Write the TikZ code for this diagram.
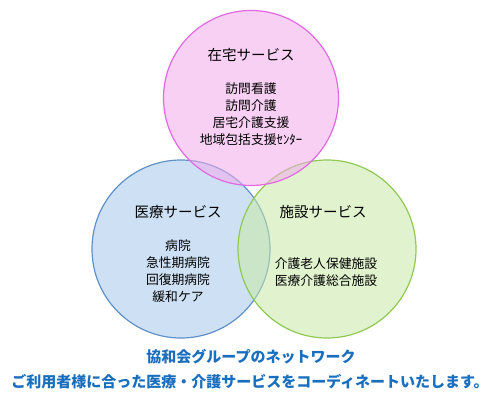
\documentclass[tikz,border=0pt]{standalone}
\usepackage{fontspec}
\setmainfont{Noto Sans CJK JP}
\definecolor{zaitakupink}{RGB}{242,170,235}
\definecolor{zaitakuline}{RGB}{225,105,225}
\definecolor{iryoublue}{RGB}{165,200,235}
\definecolor{iryouline}{RGB}{95,145,200}
\definecolor{shisetsugreen}{RGB}{200,232,165}
\definecolor{shisetsuline}{RGB}{145,200,85}
\definecolor{netblue}{RGB}{25,110,190}
\usepackage{tikz}
\usetikzlibrary{positioning}

\begin{document}
\begin{tikzpicture}[x=1pt,y=-1pt,
        ring/.style={circle,draw,line width=1.2pt,minimum size=178pt,inner sep=0pt,fill opacity=0.55},
        head/.style={font=\fontsize{14.5}{17}\selectfont},
        items/.style={font=\fontsize{12.8}{17}\selectfont,align=center},
        note/.style={font=\fontsize{15}{17}\selectfont\bfseries,text=netblue}]
        \useasboundingbox (0,0) rectangle (500,409);
        \node[ring,draw=iryouline,fill=iryoublue] (iryou) at (181,249) {};
        \node[ring,draw=shisetsuline,fill=shisetsugreen] (shisetsu) at (327,249) {};
        \node[ring,draw=zaitakuline,fill=zaitakupink,minimum size=175pt] (zaitaku) at (251,98) {};
        \node[head] (zaitakuh) at (251,55) {在宅サービス};
        \node[items,below=14pt of zaitakuh] (zaitakui) {訪問看護\\ 訪問介護\\ 居宅介護支援\\ 地域包括支援ｾﾝﾀｰ};
        \node[head] (iryouh) at (178,212) {医療サービス};
        \node[items,below=14pt of iryouh] (iryoui) {病院\\ 急性期病院\\ 回復期病院\\ 緩和ケア};
        \node[head] (shisetsuh) at (323,212) {施設サービス};
        \node[items] (shisetsui) at (326,272) {介護老人保健施設\\ 医療介護総合施設};
        \node[note] (group) at (251,357) {協和会グループのネットワーク};
        \node[note] (coord) at (250,382) {ご利用者様に合った医療・介護サービスをコーディネートいたします。};
\end{tikzpicture}
\end{document}
